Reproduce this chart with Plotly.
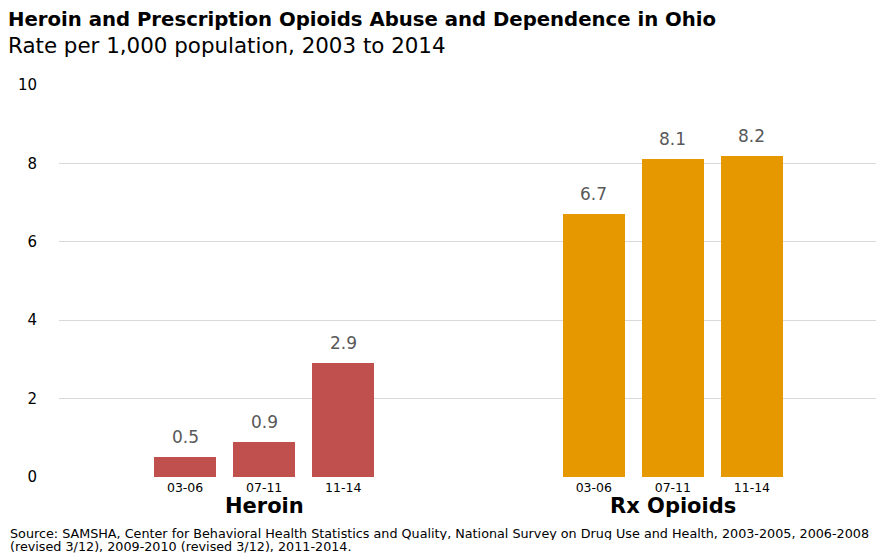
import plotly.graph_objects as go

periods = ["03-06", "07-11", "11-14"]
groups = ["Heroin", "Rx Opioids"]
heroin = [0.5, 0.9, 2.9]
rx_opioids = [6.7, 8.1, 8.2]
colors = ["#C0504D", "#E59800"]
y_ticks = [0, 2, 4, 6, 8, 10]

FONT = "DejaVu Sans, Verdana, sans-serif"
group_offset = 5.17
series = [heroin, rx_opioids]

fig = go.Figure()
tickvals, ticktext = [], []
for gi, (name, vals) in enumerate(zip(groups, series)):
    xs = [gi * group_offset + i for i in range(len(periods))]
    tickvals += xs
    ticktext += periods
    fig.add_trace(go.Bar(x=xs, y=vals, name=name, marker=dict(color=colors[gi], line=dict(width=0)),
                         width=0.79, showlegend=False, hoverinfo="y"))
    for x, v in zip(xs, vals):
        fig.add_annotation(x=x, y=v, text=f"{v:.1f}", showarrow=False, yanchor="bottom",
                           yshift=8, font=dict(family=FONT, size=17, color="#595959"))
    fig.add_annotation(x=sum(xs) / len(xs), y=0, yref="y", text=f"<b>{name}</b>", showarrow=False,
                       yanchor="middle", yshift=-29, font=dict(family=FONT, size=21, color="#000000"))

fig.update_layout(
    width=876, height=554,
    margin=dict(l=59, r=0, t=85, b=77),
    plot_bgcolor="white", paper_bgcolor="white",
    bargap=0,
    xaxis=dict(range=[-1.595, 8.74], tickvals=tickvals, ticktext=ticktext, showgrid=False,
               zeroline=False, showline=False, ticks="", ticklabelstandoff=1,
               tickfont=dict(family=FONT, size=12.5, color="#000000")),
    yaxis=dict(range=[0, 10], tickvals=y_ticks, showgrid=True, gridcolor="#D9D9D9", gridwidth=1,
               zeroline=False, showline=False, ticks="", ticklabelstandoff=21,
               tickfont=dict(family=FONT, size=15, color="#000000")),
)

fig.add_annotation(xref="paper", yref="paper", x=-59/817, y=1 + (85-20)/392, xanchor="left", yanchor="middle",
                   text="<b>Heroin and Prescription Opioids Abuse and Dependence in Ohio</b>", showarrow=False,
                   font=dict(family=FONT, size=19.7, color="#000000"), xshift=6)
fig.add_annotation(xref="paper", yref="paper", x=-59/817, y=1 + (85-46)/392, xanchor="left", yanchor="middle",
                   text="Rate per 1,000 population, 2003 to 2014", showarrow=False,
                   font=dict(family=FONT, size=21.4, color="#000000"), xshift=6)
fig.add_annotation(xref="paper", yref="paper", x=-59/817, y=-(533-477)/392, xanchor="left", yanchor="middle",
                   text="Source: SAMSHA, Center for Behavioral Health Statistics and Quality, National Survey on Drug Use and Health, 2003-2005, 2006-2008",
                   showarrow=False, height=13, borderpad=0,
                   font=dict(family=FONT, size=12.75, color="#000000"), xshift=9)
fig.add_annotation(xref="paper", yref="paper", x=-59/817, y=-(546-477)/392, xanchor="left", yanchor="middle",
                   text="(revised 3/12), 2009-2010 (revised 3/12), 2011-2014.",
                   showarrow=False, height=13, borderpad=0,
                   font=dict(family=FONT, size=12.75, color="#000000"), xshift=9)

fig.write_html("out.html", config={"displayModeBar": False},
               post_script="document.body.style.margin='0';")
